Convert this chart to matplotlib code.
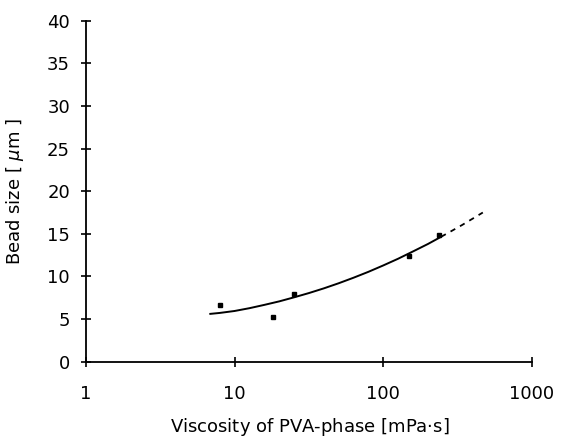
import numpy as np
import matplotlib
matplotlib.use("Agg")
import matplotlib.pyplot as plt
from matplotlib.ticker import FixedLocator, NullLocator

# measured beads
visc = [8.0, 18.0, 25.0, 149.0, 237.0]
size = [6.7, 5.2, 7.9, 12.4, 14.9]

# fitted curve (solid part, then dashed extrapolation)
curve_x = [6.76, 7.94, 10.0, 12.6, 15.8, 20.0, 25.1, 31.6, 39.8, 50.1,
           63.1, 79.4, 100.0, 126.0, 158.0, 200.0, 245.0]
curve_y = [5.60, 5.72, 5.95, 6.28, 6.66, 7.08, 7.55, 8.05, 8.60, 9.20,
           9.85, 10.54, 11.29, 12.08, 12.92, 13.81, 14.65]
dash_x = [245.0, 288.0, 339.0, 398.0, 468.0]
dash_y = [14.65, 15.33, 16.03, 16.76, 17.5]

xticks = [1, 10, 100, 1000]
yticks = [0, 5, 10, 15, 20, 25, 30, 35, 40]

plt.rcParams['font.family'] = ['DejaVu Sans']

fig = plt.figure(figsize=(5.61, 4.38), dpi=100)
ax = fig.add_axes([0.1533, 0.1742, 0.7947, 0.7785])

ax.plot(curve_x, curve_y, color='black', lw=1.4, solid_capstyle='butt')
ax.plot(dash_x, dash_y, color='black', lw=1.3, ls=(0, (3, 3)))
ax.plot(visc, size, ls='none', marker='s', ms=3.2, color='black')

ax.set_xscale('log')
ax.set_xlim(1, 1000)
ax.set_ylim(0, 40)
ax.xaxis.set_major_locator(FixedLocator(xticks))
ax.xaxis.set_minor_locator(NullLocator())
ax.set_xticklabels([str(t) for t in xticks])
ax.set_yticks(yticks)

for s in ['top', 'right']:
    ax.spines[s].set_visible(False)
for s in ['left', 'bottom']:
    ax.spines[s].set_linewidth(1.3)

ax.tick_params(axis='both', direction='inout', length=7, width=1.2, labelsize=13)
ax.tick_params(axis='x', pad=13)
ax.tick_params(axis='y', pad=8)

ax.set_xlabel('Viscosity of PVA-phase [mPa$\\cdot$s]', fontsize=13)
ax.xaxis.set_label_coords(0.502, -0.158)
ax.set_ylabel('Bead size [ $\\mu$m ]', fontsize=13)
ax.yaxis.set_label_coords(-0.135, 0.5)

fig.savefig('out.png', dpi=100)
